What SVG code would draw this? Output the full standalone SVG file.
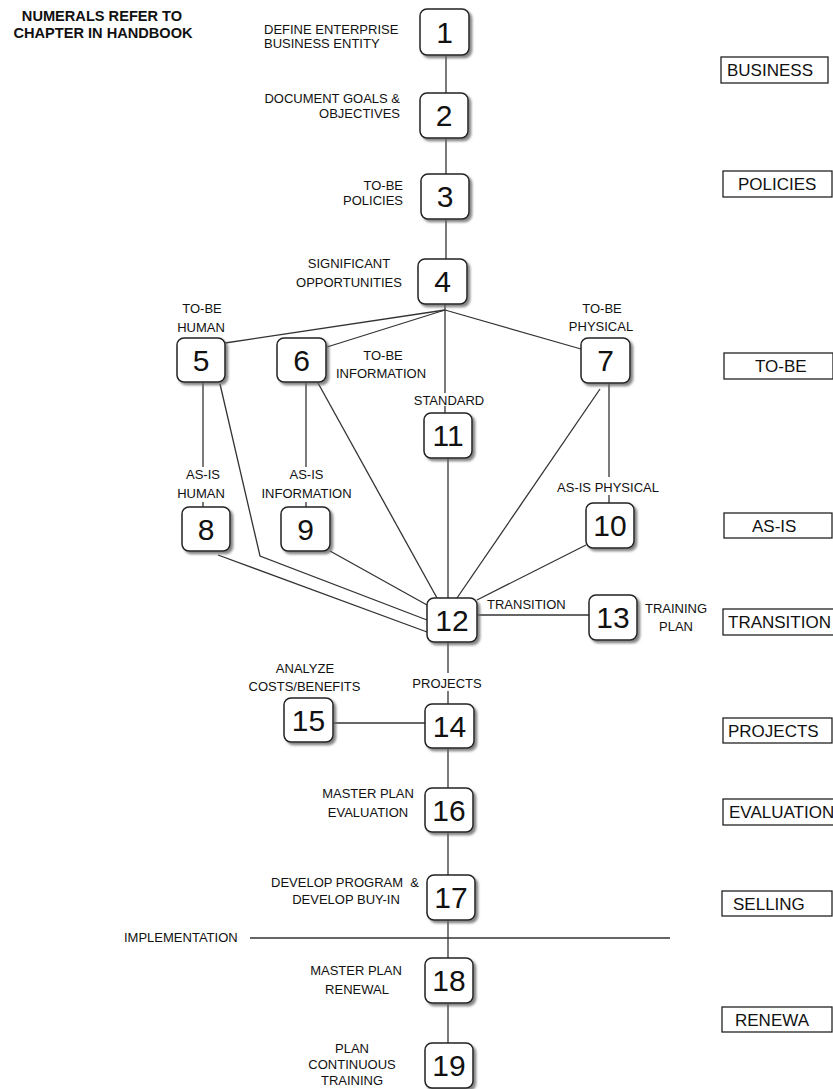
<svg xmlns="http://www.w3.org/2000/svg" width="833" height="1089" viewBox="0 0 833 1089">
  <style>
    text { font-family: "Liberation Sans", Arial, sans-serif; fill: #111; }
    .lbl { font-size: 13px; }
    .mid { text-anchor: middle; }
    .end { text-anchor: end; }
    .num { font-size: 30px; text-anchor: middle; }
    .hdr { font-size: 14.6px; font-weight: bold; text-anchor: middle; }
    .phase { font-size: 17px; }
    .box { fill: #fff; stroke: #222; stroke-width: 1.5; filter: url(#shadow); }
    .pbox { fill: #fff; stroke: #222; stroke-width: 1.3; }
    .conn line, .conn polyline { stroke: #333; stroke-width: 1.3; fill: none; }
  </style>
  <defs>
    <filter id="shadow" x="-20%" y="-20%" width="150%" height="150%">
      <feDropShadow dx="2.5" dy="2.5" stdDeviation="1.2" flood-color="#666" flood-opacity="0.8"/>
    </filter>
  </defs>
  <rect width="833" height="1089" fill="#fff"/>

  <!-- header note -->
  <g id="note">
    <text class="hdr" x="102" y="21">NUMERALS REFER TO</text>
    <text class="hdr" x="103" y="38">CHAPTER IN HANDBOOK</text>
  </g>

  <!-- connectors -->
  <g id="connectors" class="conn">
    <line x1="446" y1="55" x2="446" y2="93"/>
    <line x1="446" y1="138" x2="446" y2="174"/>
    <line x1="446" y1="219" x2="446" y2="259"/>
    <line x1="445" y1="304" x2="445" y2="310"/>
    <!-- fan out from 4 -->
    <line x1="445" y1="310" x2="225" y2="343"/>
    <line x1="445" y1="310" x2="327" y2="347"/>
    <line x1="445" y1="310" x2="445" y2="393"/>
    <line x1="445" y1="406" x2="445" y2="413"/>
    <line x1="445" y1="310" x2="581" y2="349"/>
    <!-- to-be to as-is -->
    <line x1="203" y1="382" x2="203" y2="467"/>
    <line x1="203" y1="502" x2="203" y2="507"/>
    <line x1="306" y1="382" x2="306" y2="467"/>
    <line x1="306" y1="502" x2="306" y2="507"/>
    <line x1="609" y1="383" x2="609" y2="477"/>
    <line x1="609" y1="495" x2="609" y2="503"/>
    <!-- into transition -->
    <polyline points="220,384 260,556 427,620"/>
    <line x1="218" y1="555" x2="427" y2="632"/>
    <line x1="330" y1="551" x2="427" y2="605"/>
    <line x1="318" y1="383" x2="437" y2="598"/>
    <line x1="448" y1="458" x2="448" y2="598"/>
    <line x1="600" y1="389" x2="457" y2="598"/>
    <line x1="586" y1="545" x2="477" y2="600"/>
    <line x1="477" y1="615" x2="589" y2="615"/>
    <!-- down the spine -->
    <line x1="448" y1="642" x2="448" y2="673"/>
    <line x1="448" y1="691" x2="448" y2="704"/>
    <line x1="333" y1="723" x2="425" y2="723"/>
    <line x1="448" y1="748" x2="448" y2="788"/>
    <line x1="448" y1="832" x2="448" y2="875"/>
    <line x1="448" y1="920" x2="448" y2="958"/>
    <line x1="448" y1="1003" x2="448" y2="1043"/>
    <!-- implementation boundary -->
    <line x1="250" y1="938" x2="670" y2="938"/>
  </g>

  <g id="implementation">
    <text class="lbl" x="124" y="942">IMPLEMENTATION</text>
  </g>

  <!-- numbered steps -->
  <g id="n1">
    <rect class="box" x="420" y="9" width="49" height="46" rx="7"/>
    <text class="num" x="444.5" y="43">1</text>
    <text class="lbl" x="264" y="34">DEFINE ENTERPRISE</text>
    <text class="lbl" x="264" y="48">BUSINESS ENTITY</text>
  </g>
  <g id="n2">
    <rect class="box" x="420" y="93" width="48" height="45" rx="7"/>
    <text class="num" x="444" y="126">2</text>
    <text class="lbl end" x="400" y="103">DOCUMENT GOALS &amp;</text>
    <text class="lbl end" x="400" y="118">OBJECTIVES</text>
  </g>
  <g id="n3">
    <rect class="box" x="421" y="174" width="48" height="45" rx="7"/>
    <text class="num" x="445" y="207">3</text>
    <text class="lbl end" x="403" y="190">TO-BE</text>
    <text class="lbl end" x="403" y="205">POLICIES</text>
  </g>
  <g id="n4">
    <rect class="box" x="418" y="259" width="49" height="45" rx="7"/>
    <text class="num" x="442.5" y="292">4</text>
    <text class="lbl mid" x="349" y="268">SIGNIFICANT</text>
    <text class="lbl mid" x="349" y="287">OPPORTUNITIES</text>
  </g>
  <g id="n5">
    <rect class="box" x="177" y="338" width="48" height="44" rx="7"/>
    <text class="num" x="201" y="371">5</text>
    <text class="lbl mid" x="202" y="313">TO-BE</text>
    <text class="lbl mid" x="201" y="332">HUMAN</text>
  </g>
  <g id="n6">
    <rect class="box" x="277" y="338" width="49" height="44" rx="7"/>
    <text class="num" x="301.5" y="371">6</text>
    <text class="lbl mid" x="383" y="360">TO-BE</text>
    <text class="lbl mid" x="381" y="378">INFORMATION</text>
  </g>
  <g id="n7">
    <rect class="box" x="581" y="338" width="49" height="45" rx="7"/>
    <text class="num" x="605.5" y="371">7</text>
    <text class="lbl mid" x="602" y="313">TO-BE</text>
    <text class="lbl mid" x="601" y="331">PHYSICAL</text>
  </g>
  <g id="n8">
    <rect class="box" x="182" y="507" width="48" height="44" rx="7"/>
    <text class="num" x="206" y="540">8</text>
    <text class="lbl mid" x="203" y="479">AS-IS</text>
    <text class="lbl mid" x="201" y="498">HUMAN</text>
  </g>
  <g id="n9">
    <rect class="box" x="281" y="507" width="49" height="44" rx="7"/>
    <text class="num" x="305.5" y="540">9</text>
    <text class="lbl mid" x="306.5" y="479">AS-IS</text>
    <text class="lbl mid" x="306.5" y="498">INFORMATION</text>
  </g>
  <g id="n10">
    <rect class="box" x="586" y="503" width="48" height="45" rx="7"/>
    <text class="num" x="610" y="536">10</text>
    <text class="lbl mid" x="608" y="492">AS-IS PHYSICAL</text>
  </g>
  <g id="n11">
    <rect class="box" x="424" y="413" width="48" height="45" rx="7"/>
    <text class="num" x="448" y="446">11</text>
    <text class="lbl mid" x="449" y="405">STANDARD</text>
  </g>
  <g id="n12">
    <rect class="box" x="427" y="598" width="50" height="44" rx="7"/>
    <text class="num" x="452" y="631">12</text>
    <text class="lbl" x="487" y="609">TRANSITION</text>
  </g>
  <g id="n13">
    <rect class="box" x="589" y="595" width="48" height="45" rx="7"/>
    <text class="num" x="613" y="628">13</text>
    <text class="lbl mid" x="676" y="613">TRAINING</text>
    <text class="lbl mid" x="676" y="631">PLAN</text>
  </g>
  <g id="n14">
    <rect class="box" x="425" y="704" width="49" height="44" rx="7"/>
    <text class="num" x="449.5" y="737">14</text>
    <text class="lbl mid" x="447" y="688">PROJECTS</text>
  </g>
  <g id="n15">
    <rect class="box" x="284" y="698" width="49" height="44" rx="7"/>
    <text class="num" x="308.5" y="731">15</text>
    <text class="lbl mid" x="305" y="673">ANALYZE</text>
    <text class="lbl mid" x="304.5" y="691">COSTS/BENEFITS</text>
  </g>
  <g id="n16">
    <rect class="box" x="425" y="788" width="48" height="44" rx="7"/>
    <text class="num" x="449" y="821">16</text>
    <text class="lbl mid" x="368" y="798">MASTER PLAN</text>
    <text class="lbl mid" x="368" y="817">EVALUATION</text>
  </g>
  <g id="n17">
    <rect class="box" x="427" y="875" width="48" height="45" rx="7"/>
    <text class="num" x="451" y="908">17</text>
    <text class="lbl mid" x="345" y="887" xml:space="preserve">DEVELOP PROGRAM  &amp;</text>
    <text class="lbl mid" x="346" y="904">DEVELOP BUY-IN</text>
  </g>
  <g id="n18">
    <rect class="box" x="425" y="958" width="48" height="45" rx="7"/>
    <text class="num" x="449" y="991">18</text>
    <text class="lbl mid" x="356" y="975">MASTER PLAN</text>
    <text class="lbl mid" x="357" y="994">RENEWAL</text>
  </g>
  <g id="n19">
    <rect class="box" x="425" y="1043" width="48" height="45" rx="7"/>
    <text class="num" x="449" y="1076">19</text>
    <text class="lbl mid" x="352" y="1053">PLAN</text>
    <text class="lbl mid" x="352" y="1069">CONTINUOUS</text>
    <text class="lbl mid" x="352" y="1085">TRAINING</text>
  </g>

  <!-- phase column -->
  <g id="phase-business">
    <rect class="pbox" x="721" y="57" width="107" height="26"/>
    <text class="phase" x="727" y="76">BUSINESS</text>
  </g>
  <g id="phase-policies">
    <rect class="pbox" x="723" y="171" width="109" height="26"/>
    <text class="phase" x="738" y="190">POLICIES</text>
  </g>
  <g id="phase-tobe">
    <rect class="pbox" x="724" y="353" width="109" height="26"/>
    <text class="phase" x="755" y="372">TO-BE</text>
  </g>
  <g id="phase-asis">
    <rect class="pbox" x="724" y="513" width="108" height="25"/>
    <text class="phase" x="752" y="532">AS-IS</text>
  </g>
  <g id="phase-transition">
    <rect class="pbox" x="723" y="609" width="112" height="26"/>
    <text class="phase" x="728" y="628">TRANSITION</text>
  </g>
  <g id="phase-projects">
    <rect class="pbox" x="723" y="718" width="109" height="25"/>
    <text class="phase" x="728" y="737">PROJECTS</text>
  </g>
  <g id="phase-evaluation">
    <rect class="pbox" x="723" y="799" width="112" height="26"/>
    <text class="phase" x="729" y="818">EVALUATION</text>
  </g>
  <g id="phase-selling">
    <rect class="pbox" x="722" y="891" width="110" height="25"/>
    <text class="phase" x="733" y="910">SELLING</text>
  </g>
  <g id="phase-renewal">
    <rect class="pbox" x="722" y="1007" width="110" height="25"/>
    <text class="phase" x="735" y="1026">RENEWA</text>
  </g>
</svg>
